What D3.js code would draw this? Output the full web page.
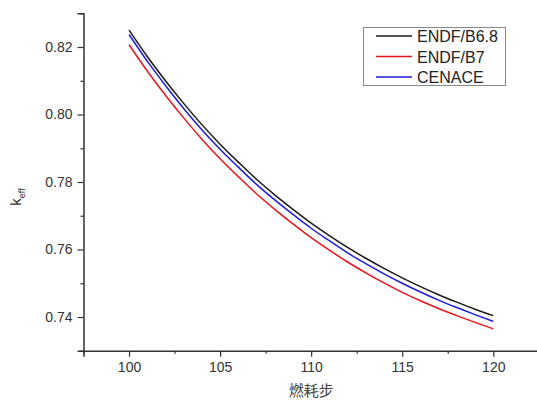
<!DOCTYPE html>
<html><head><meta charset="utf-8">
<script src="https://cdn.jsdelivr.net/npm/d3@7"></script>
<style>body{margin:0;background:#fff;} svg{display:block;font-family:Arial,"Liberation Sans",sans-serif;}</style>
</head><body>
<svg id="c" width="537" height="402"></svg>
<script>
const steps = [100,101,102,103,104,105,106,107,108,109,110,111,112,113,114,115,116,117,118,119,120];
const endfB68 = [0.8250,0.8172,0.8100,0.8033,0.7970,0.7912,0.7859,0.7808,0.7762,0.7719,0.7678,0.7641,0.7606,0.7574,0.7544,0.7516,0.7490,0.7466,0.7444,0.7423,0.7404];
const endfB7  = [0.8207,0.8129,0.8057,0.7990,0.7927,0.7869,0.7816,0.7765,0.7719,0.7676,0.7635,0.7598,0.7563,0.7531,0.7501,0.7473,0.7448,0.7425,0.7404,0.7384,0.7365];
const cenace  = [0.8237,0.8158,0.8086,0.8018,0.7955,0.7897,0.7844,0.7793,0.7747,0.7704,0.7663,0.7626,0.7590,0.7558,0.7528,0.7500,0.7474,0.7450,0.7428,0.7407,0.7387];
const seriesNames = ["ENDF/B6.8","ENDF/B7","CENACE"];
const seriesColors = ["#1a1a1a","#e8141c","#1c1cd8"];
const xMajor = [100,105,110,115,120];
const xMinor = [97.5,102.5,107.5,112.5,117.5,122.5];
const yMajor = [0.74,0.76,0.78,0.80,0.82];
const yMinor = [0.73,0.75,0.77,0.79,0.81,0.83];

const svg = d3.select("#c");
const x = d3.scaleLinear().domain([97.5,122.5]).range([83.5,538.8]);
const y = d3.scaleLinear().domain([0.73,0.83]).range([350.75,13.25]);
const axisCol = "#333";

// axes
const gx = svg.append("g").attr("transform",`translate(0,${y(0.73)})`)
  .call(d3.axisBottom(x).tickValues(xMajor).tickSize(6).tickPadding(5).tickFormat(d3.format("d")));
gx.append("g").call(d3.axisBottom(x).tickValues(xMinor).tickSize(3).tickFormat(""));
const gy = svg.append("g").attr("transform",`translate(${x(97.5)},0)`)
  .call(d3.axisLeft(y).tickValues(yMajor).tickSize(6).tickPadding(5).tickFormat(d3.format(".2f")));
gy.append("g").call(d3.axisLeft(y).tickValues(yMinor).tickSize(3).tickFormat(""));
svg.selectAll(".domain").attr("stroke",axisCol).attr("stroke-width",1.5);
svg.selectAll(".tick line").attr("stroke",axisCol).attr("stroke-width",1.2);
svg.selectAll(".tick text").attr("font-size",14).attr("fill","#333").attr("font-family","Arial, 'Liberation Sans', sans-serif");
gx.selectAll("g g .domain").remove();
gy.selectAll("g g .domain").remove();

// lines
const line = d3.line().x((d,i)=>x(steps[i])).y(d=>y(d)).curve(d3.curveMonotoneX);
[endfB68,endfB7,cenace].forEach((s,i)=>{
  svg.append("path").datum(s).attr("d",line).attr("fill","none")
    .attr("stroke",seriesColors[i]).attr("stroke-width",1.5);
});

// axis labels
svg.append("text").attr("x",x(110)).attr("y",396).attr("text-anchor","middle")
  .attr("font-size",15).attr("fill","#444")
  .attr("font-family","'Noto Sans CJK SC',sans-serif").text("燃耗步");
const yl = svg.append("text").attr("transform",`translate(21,197) rotate(-90)`)
  .attr("text-anchor","middle").attr("font-size",15).attr("fill","#333");
yl.append("tspan").text("k");
yl.append("tspan").attr("font-size",9).attr("dy",4).text("eff");

// legend
const lg = svg.append("g");
lg.append("rect").attr("x",363.5).attr("y",27.5).attr("width",142).attr("height",58)
  .attr("fill","#fff").attr("stroke","#888").attr("stroke-width",1);
seriesNames.forEach((n,i)=>{
  const yy = 36 + i*20.5;
  lg.append("line").attr("x1",376).attr("x2",412).attr("y1",yy).attr("y2",yy)
    .attr("stroke",seriesColors[i]).attr("stroke-width",1.5);
  lg.append("text").attr("x",417).attr("y",yy+6).attr("font-size",16).attr("fill","#222").text(n);
});
</script>
</body></html>
